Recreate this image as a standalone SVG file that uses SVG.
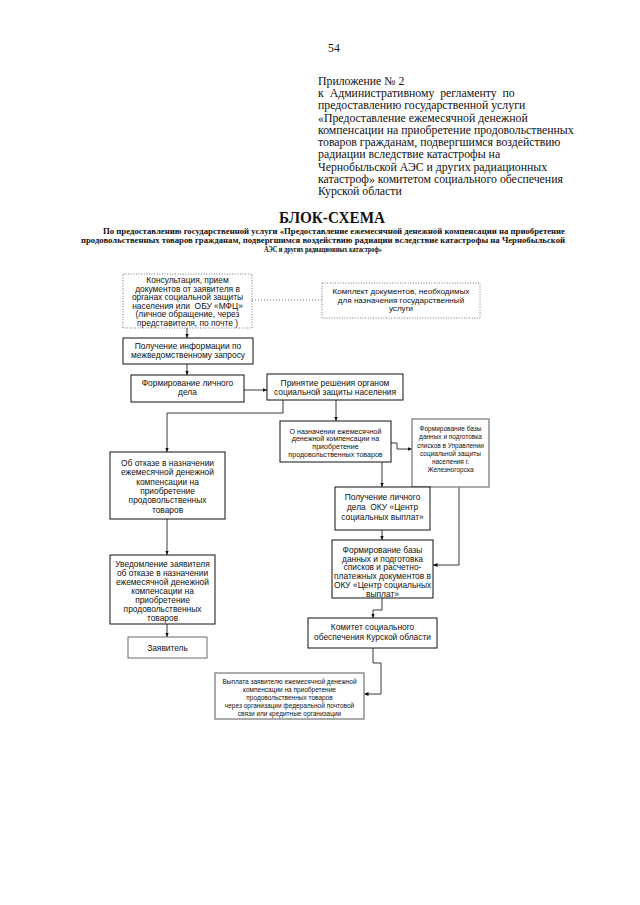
<svg xmlns="http://www.w3.org/2000/svg" width="640" height="905" viewBox="0 0 640 905">
<defs>
<style>
.hd{font-family:"Liberation Serif","Times New Roman",serif;font-size:11.8px;fill:#111}
.tt{font-family:"Liberation Serif","Times New Roman",serif;font-weight:bold;fill:#111}
.t{font-family:"Liberation Sans",Arial,sans-serif;font-size:8.4px;fill:#111;text-anchor:middle}
.s{font-family:"Liberation Sans",Arial,sans-serif;font-size:7.1px;fill:#111;text-anchor:middle}
.xs{font-family:"Liberation Sans",Arial,sans-serif;font-size:6.5px;fill:#111;text-anchor:middle}
.box{fill:#fff;stroke:#111;stroke-width:1}
.dot{fill:#fff;stroke:#666;stroke-width:0.9;stroke-dasharray:1 1.6}
.gry{fill:#fff;stroke:#888;stroke-width:1.4}
.ln{fill:none;stroke:#222;stroke-width:0.9}
.dl{fill:none;stroke:#666;stroke-width:0.9;stroke-dasharray:1 2}
</style>
<marker id="ar" markerUnits="userSpaceOnUse" markerWidth="5" markerHeight="5" refX="4.5" refY="2.5" orient="auto">
<path d="M0,0.6 L4.5,2.5 L0,4.4 Z" fill="#111"/>
</marker>
</defs>
<rect width="640" height="905" fill="#fff"/>

<text class="hd" x="328" y="52">54</text>
<g id="header">
<text class="hd" x="318" y="85">Приложение № 2</text>
<text class="hd" x="318" y="97.2" xml:space="preserve">к  Административному  регламенту  по</text>
<text class="hd" x="318" y="109.4">предоставлению государственной услуги</text>
<text class="hd" x="318" y="121.7">«Предоставление ежемесячной денежной</text>
<text class="hd" x="318" y="133.9">компенсации на приобретение продовольственных</text>
<text class="hd" x="318" y="146.1">товаров гражданам, подвергшимся воздействию</text>
<text class="hd" x="318" y="158.3">радиации вследствие катастрофы на</text>
<text class="hd" x="318" y="170.6">Чернобыльской АЭС и других радиационных</text>
<text class="hd" x="318" y="182.8">катастроф» комитетом социального обеспечения</text>
<text class="hd" x="318" y="195">Курской области</text>
</g>

<g id="title">
<text class="tt" x="279" y="222.5" font-size="16" textLength="106" lengthAdjust="spacingAndGlyphs">БЛОК-СХЕМА</text>
<text class="tt" x="103" y="233.5" font-size="8" textLength="462" lengthAdjust="spacingAndGlyphs">По предоставлению государственной услуги «Предоставление ежемесячной денежной компенсации на приобретение</text>
<text class="tt" x="81" y="242.5" font-size="8" textLength="484" lengthAdjust="spacingAndGlyphs">продовольственных товаров гражданам, подвергшимся воздействию радиации вследствие катастрофы на Чернобыльской</text>
<text class="tt" x="264" y="251.5" font-size="8" textLength="118" lengthAdjust="spacingAndGlyphs">АЭС и других радиационных катастроф»</text>
</g>

<g id="connectors">
<path class="dl" d="M252,300 H322"/>
<path class="ln" d="M187,328 V338" marker-end="url(#ar)"/>
<path class="ln" d="M187,364 V375" marker-end="url(#ar)"/>
<path class="ln" d="M244,390 H267" marker-end="url(#ar)"/>
<path class="ln" d="M283,400 V413 H167 V452" marker-end="url(#ar)"/>
<path class="ln" d="M167,519 V555" marker-end="url(#ar)"/>
<path class="ln" d="M167,624 V637" marker-end="url(#ar)"/>
<path class="ln" d="M336,400 V421" marker-end="url(#ar)"/>
<path class="ln" d="M391,443 H397 V449 H412" marker-end="url(#ar)"/>
<path class="ln" d="M382,462 V487" marker-end="url(#ar)"/>
<path class="ln" d="M459,487 V565 H433" marker-end="url(#ar)"/>
<path class="ln" d="M382,530 V540" marker-end="url(#ar)"/>
<path class="ln" d="M382,598 V610 H373 V618" marker-end="url(#ar)"/>
<path class="ln" d="M373,648 V663 H381 V694 H364" marker-end="url(#ar)"/>
</g>

<g id="n-konsult">
<rect class="dot" x="123" y="274" width="129" height="54"/>
<text class="t" x="187.5" y="283">Консультация, прием</text>
<text class="t" x="187.5" y="291.6">документов от заявителя в</text>
<text class="t" x="187.5" y="300.2">органах социальной защиты</text>
<text class="t" x="187.5" y="308.8" xml:space="preserve">населения или  ОБУ «МФЦ»</text>
<text class="t" x="187.5" y="317.4">(личное обращение, через</text>
<text class="t" x="187.5" y="326">представителя, по почте )</text>
</g>

<g id="n-komplekt">
<rect class="dot" x="322" y="283" width="158" height="35"/>
<text class="t" x="401" y="294" style="font-size:8.1px">Комплект документов, необходимых</text>
<text class="t" x="401" y="302.7" style="font-size:8.1px">для назначения государственный</text>
<text class="t" x="401" y="311.4" style="font-size:8.1px">услуги</text>
</g>

<g id="n-info">
<rect class="box" x="123" y="338" width="130" height="26"/>
<text class="t" x="188" y="349">Получение информации по</text>
<text class="t" x="188" y="357.6">межведомственному запросу</text>
</g>

<g id="n-delo">
<rect class="box" x="131" y="375" width="113" height="27"/>
<text class="t" x="187.5" y="386">Формирование личного</text>
<text class="t" x="187.5" y="395">дела</text>
</g>

<g id="n-reshenie">
<rect class="box" x="267" y="374" width="136" height="26"/>
<text class="t" x="335" y="386">Принятие решения органом</text>
<text class="t" x="335" y="395">социальной защиты населения</text>
</g>

<g id="n-otkaz">
<rect class="box" x="110" y="452" width="115" height="67"/>
<text class="t" x="167.5" y="466">Об отказе в назначении</text>
<text class="t" x="167.5" y="475.3">ежемесячной денежной</text>
<text class="t" x="167.5" y="484.6">компенсации на</text>
<text class="t" x="167.5" y="493.9">приобретение</text>
<text class="t" x="167.5" y="503.2">продовольственных</text>
<text class="t" x="167.5" y="512.5">товаров</text>
</g>

<g id="n-uvedom">
<rect class="box" x="110" y="555" width="105" height="69"/>
<text class="t" x="162.5" y="567">Уведомление заявителя</text>
<text class="t" x="162.5" y="576">об отказе в назначении</text>
<text class="t" x="162.5" y="585">ежемесячной денежной</text>
<text class="t" x="162.5" y="594">компенсации на</text>
<text class="t" x="162.5" y="603">приобретение</text>
<text class="t" x="162.5" y="612">продовольственных</text>
<text class="t" x="162.5" y="621">товаров</text>
</g>

<g id="n-zayavitel">
<rect class="box" x="128" y="637" width="79" height="21" style="stroke:#444;stroke-width:0.8"/>
<text class="t" x="167.5" y="651">Заявитель</text>
</g>

<g id="n-naznach">
<rect class="box" x="280" y="421" width="111" height="41"/>
<text class="s" x="335.5" y="433.5">О назначении ежемесячной</text>
<text class="s" x="335.5" y="441.3">денежной компенсации на</text>
<text class="s" x="335.5" y="449.1">приобретение</text>
<text class="s" x="335.5" y="456.9">продовольственных товаров</text>
</g>

<g id="n-zhelezn">
<rect class="gry" x="412" y="419" width="77" height="68"/>
<text class="xs" x="450.5" y="430.5">Формирование базы</text>
<text class="xs" x="450.5" y="439">данных и подготовка</text>
<text class="xs" x="450.5" y="447.5">списков в Управлении</text>
<text class="xs" x="450.5" y="456">социальной защиты</text>
<text class="xs" x="450.5" y="464">населения г.</text>
<text class="xs" x="450.5" y="472">Железногорска</text>
</g>

<g id="n-lichnoe">
<rect class="box" x="335" y="487" width="95" height="43"/>
<text class="t" x="382.5" y="500">Получение личного</text>
<text class="t" x="382.5" y="510" xml:space="preserve">дела  ОКУ «Центр</text>
<text class="t" x="382.5" y="520">социальных выплат»</text>
</g>

<g id="n-baza">
<rect class="box" x="332" y="540" width="101" height="58"/>
<text class="t" x="382.5" y="553">Формирование базы</text>
<text class="t" x="382.5" y="561.7">данных и подготовка</text>
<text class="t" x="382.5" y="570.4">списков и расчетно-</text>
<text class="t" x="382.5" y="579.1">платежных документов в</text>
<text class="t" x="382.5" y="587.8">ОКУ «Центр социальных</text>
<text class="t" x="382.5" y="596.5">выплат»</text>
</g>

<g id="n-komitet">
<rect class="box" x="308" y="618" width="129" height="30"/>
<text class="t" x="372.5" y="630">Комитет социального</text>
<text class="t" x="372.5" y="639.5">обеспечения Курской области</text>
</g>

<g id="n-vyplata">
<rect class="gry" x="215" y="673" width="149" height="46"/>
<text class="xs" x="289.5" y="684.3">Выплата заявителю ежемесячной денежной</text>
<text class="xs" x="289.5" y="692.1">компенсации на приобретение</text>
<text class="xs" x="289.5" y="699.9">продовольственных товаров</text>
<text class="xs" x="289.5" y="707.7">через организации федеральной почтовой</text>
<text class="xs" x="289.5" y="715.5">связи или кредитные организации</text>
</g>
</svg>
